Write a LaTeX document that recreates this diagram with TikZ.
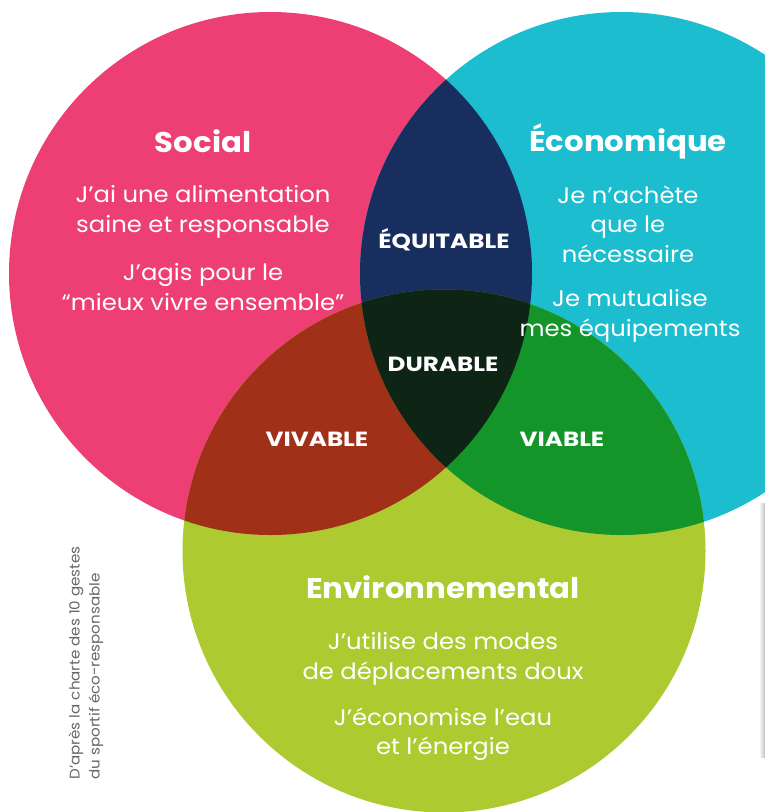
\documentclass[tikz,border=0pt]{standalone}
\usepackage{fontspec}
\setmainfont{Poppins}[FakeStretch=1.08]
\newfontfamily\capsfont{Poppins}[FakeStretch=1.2]
\usetikzlibrary{positioning}
\definecolor{social}{HTML}{EE3F74}
\definecolor{econ}{HTML}{1BBDCE}
\definecolor{envir}{HTML}{AECA31}
\definecolor{equit}{HTML}{182E5F}
\definecolor{vivab}{HTML}{A13019}
\definecolor{viab}{HTML}{139529}
\definecolor{durab}{HTML}{0E2415}
\tikzstyle{title} = [text=white, font=\bfseries\fontsize{28.5}{32}\selectfont]
\tikzstyle{gesture} = [text=white, align=center, font=\fontsize{22.5}{29.5}\selectfont]
\tikzstyle{inter} = [text=white, font=\capsfont\bfseries\fontsize{20.5}{22}\selectfont]
\tikzstyle{source} = [text=black!60, align=left, rotate=90, font=\fontsize{14}{20}\selectfont]
\newcommand{\socialdisk}{(270.5,273.5) circle (261.5pt)}
\newcommand{\econdisk}{(621.5,273.5) circle (261.5pt)}
\newcommand{\envirdisk}{(444,551) circle (261.5pt)}

\begin{document}
\begin{tikzpicture}[x=1pt, y=-1pt]
  \useasboundingbox (0,0) rectangle (765,812);
  \begin{scope}
    \clip (0,0) rectangle (765,812);
    % the three spheres
    \fill[social] \socialdisk;
    \fill[econ] \econdisk;
    \fill[envir] \envirdisk;
    % pairwise overlaps
    \begin{scope}
      \clip \socialdisk;
      \fill[equit] \econdisk;
      \fill[vivab] \envirdisk;
    \end{scope}
    \begin{scope}
      \clip \econdisk;
      \fill[viab] \envirdisk;
      \clip \envirdisk;
      \fill[durab] \socialdisk;
    \end{scope}
    % page edge
    \shade[left color=white, right color=black!25] (759,503) rectangle (765,757);
  \end{scope}

  \node[title] (social) at (203,141) {Social};
  \node[gesture] (soc1) at (203,212) {J’ai une alimentation\\saine et responsable};
  \node[gesture] (soc2) at (203,287) {J’agis pour le\\“mieux vivre ensemble”};

  \node[title] (econ) at (628,141) {Économique};
  \node[gesture] (eco1) at (628,224) {Je n’achète\\que le\\nécessaire};
  \node[gesture] (eco2) at (630,316) {Je mutualise\\mes équipements};

  \node[title] (envir) at (443,587) {Environnemental};
  \node[gesture] (env1) at (443,659) {J’utilise des modes\\de déplacements doux};
  \node[gesture] (env2) at (443,734) {J’économise l’eau\\et l’énergie};

  \node[inter] (equit) at (444,240) {ÉQUITABLE};
  \node[inter] (durab) at (443,364) {DURABLE};
  \node[inter] (vivab) at (317,439) {VIVABLE};
  \node[inter] (viab) at (562,439) {VIABLE};

  \node[source, anchor=west] (src) at (86,783) {D’après la charte des 10 gestes\\du sportif éco-responsable};
\end{tikzpicture}
\end{document}
